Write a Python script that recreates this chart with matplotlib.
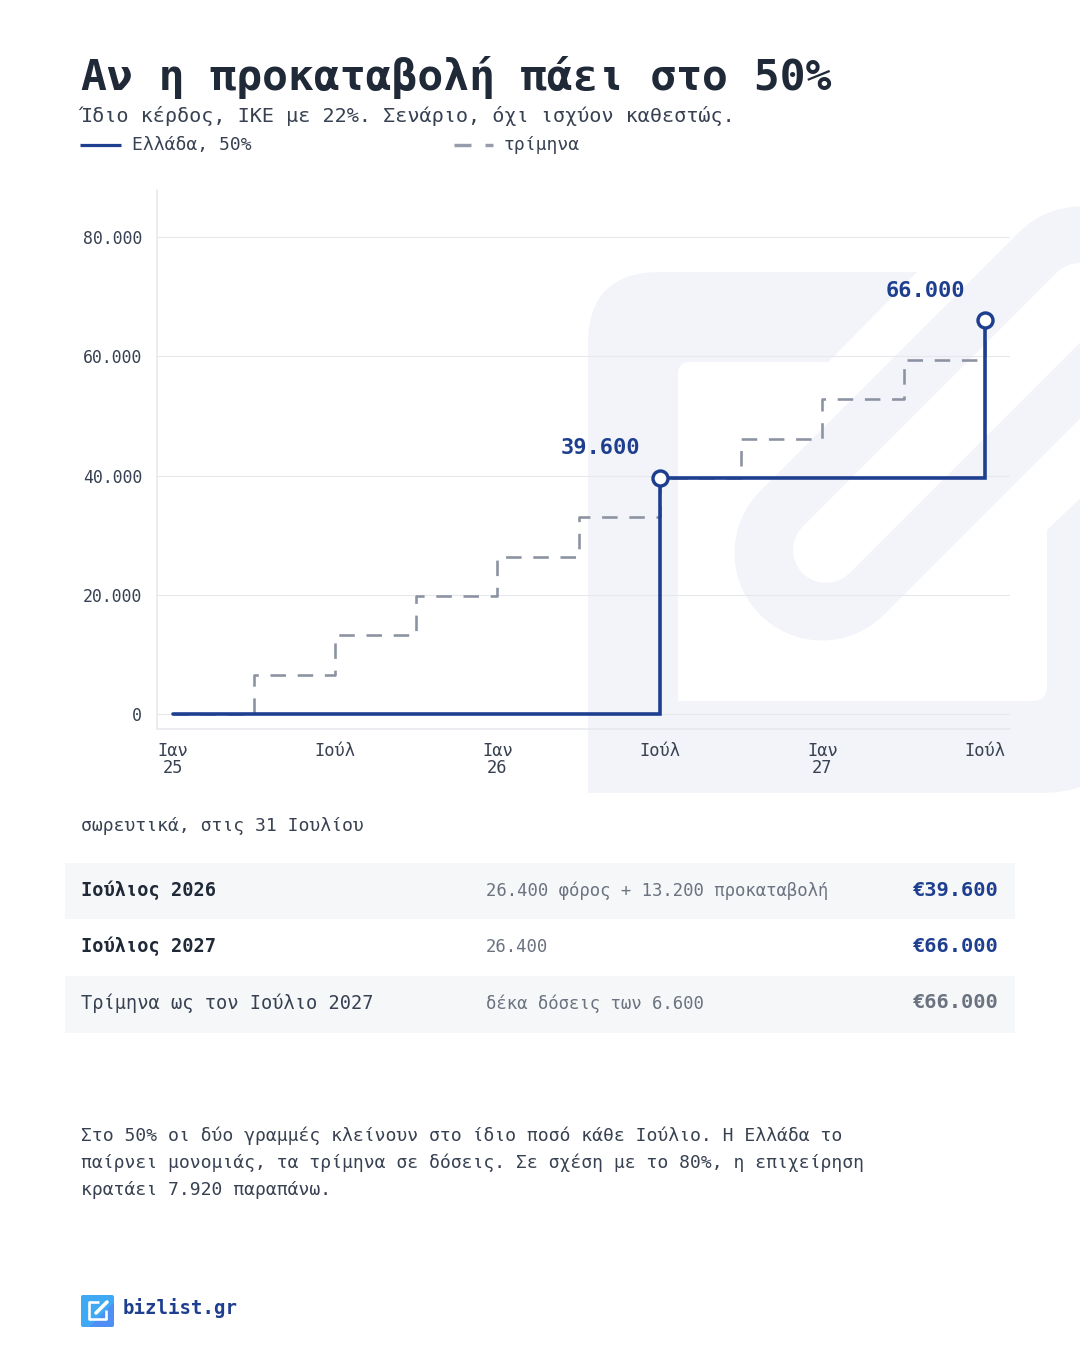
import numpy as np
import matplotlib
matplotlib.use("Agg")
import matplotlib.pyplot as plt
from matplotlib.patches import Polygon, FancyBboxPatch, Rectangle
from matplotlib.path import Path
from matplotlib.patches import PathPatch

# ---------- data ----------
greece_months = [0, 18, 30]
greece_values = [0, 39600, 66000]
quarter_months = [0, 3, 6, 9, 12, 15, 18, 21, 24, 27, 30]
quarter_values = [0, 6600, 13200, 19800, 26400, 33000, 39600, 46200, 52800, 59400, 66000]
marker_months = [18, 30]
marker_values = [39600, 66000]
marker_labels = ["39.600", "66.000"]
y_ticks = [0, 20000, 40000, 60000, 80000]
y_tick_labels = ["0", "20.000", "40.000", "60.000", "80.000"]
x_ticks = [0, 6, 12, 18, 24, 30]
x_tick_labels = ["Ιαν\n25", "Ιούλ", "Ιαν\n26", "Ιούλ", "Ιαν\n27", "Ιούλ"]
row_labels = ["Ιούλιος 2026", "Ιούλιος 2027", "Τρίμηνα ως τον Ιούλιο 2027"]
row_notes = ["26.400 φόρος + 13.200 προκαταβολή", "26.400", "δέκα δόσεις των 6.600"]
row_amounts = ["€39.600", "€66.000", "€66.000"]

# ---------- style ----------
FONT = "DejaVu Sans Mono"
plt.rcParams["font.family"] = [FONT]
plt.rcParams["lines.scale_dashes"] = False
W, H = 1080, 1350
BLUE = "#1e3f8f"
GREY = "#8b92a2"
GRID = "#e6e8ec"
WM = "#f2f4f9"
DARK = "#1f2937"
MID = "#374151"
SOFT = "#6b7280"
ROW = "#f6f7f9"
pt = lambda px: px * 0.72

fig = plt.figure(figsize=(W / 100, H / 100), dpi=100, facecolor="white")
bg = fig.add_axes([0, 0, 1, 1], zorder=0)
bg.set_xlim(0, W)
bg.set_ylim(H, 0)
bg.axis("off")


def rounded(points):
    """Path through (x, y, radius) corners."""
    verts, codes = [], []
    n = len(points)
    for i, (x, y, r) in enumerate(points):
        p = np.array([x, y], float)
        a = np.array(points[i - 1][:2], float)
        b = np.array(points[(i + 1) % n][:2], float)
        if r == 0:
            verts.append(p)
            codes.append(Path.MOVETO if i == 0 else Path.LINETO)
        else:
            p1 = p + (a - p) / np.linalg.norm(a - p) * r
            p2 = p + (b - p) / np.linalg.norm(b - p) * r
            verts += [p1, p, p2]
            codes += [Path.MOVETO if i == 0 else Path.LINETO, Path.CURVE3, Path.CURVE3]
    verts.append(verts[0])
    codes.append(Path.CLOSEPOLY)
    return Path(verts, codes)


# ---------- watermark ----------
bg.add_patch(PathPatch(rounded([(588, 793, 0), (588, 272, 72), (1130, 272, 0), (1130, 793, 90)]), fc=WM, ec="none"))
bg.add_patch(PathPatch(rounded([(678, 701, 0), (678, 362, 12), (1047, 362, 0), (1047, 701, 15)]), fc="white", ec="none"))
bg.add_patch(Polygon([(925, 264), (828, 362), (1047, 530), (1090, 489), (1090, 264)], fc="white", ec="none"))
bg.plot([822, 1085], [553, 290], color=WM, lw=pt(175), solid_capstyle="round", zorder=2)
bg.plot([826, 1080], [550, 296], color="white", lw=pt(66), solid_capstyle="round", zorder=2.1)

# ---------- table rows ----------
for top, bottom in [(863, 919), (976, 1033)]:
    bg.add_patch(Rectangle((65, top), 950, bottom - top, fc=ROW, ec="none", zorder=3))

# ---------- chart ----------
L, R, T, B = 157, 1010, 190, 729
ax = fig.add_axes([L / W, 1 - B / H, (R - L) / W, (B - T) / H], zorder=1)
ax.patch.set_alpha(0)
px_month = 27.08
x0_px, y0_px, px_val = 172.5, 714.0, 477.0 / 80000
ax.set_xlim((L - x0_px) / px_month, (R - x0_px) / px_month)
ax.set_ylim((y0_px - B) / px_val, (y0_px - T) / px_val)
for s in ["top", "right"]:
    ax.spines[s].set_visible(False)
for s in ["left", "bottom"]:
    ax.spines[s].set_color(GRID)
    ax.spines[s].set_linewidth(pt(1.5))
ax.set_axisbelow(True)
ax.grid(axis="y", color=GRID, lw=pt(1.1))
ax.set_yticks(y_ticks)
ax.set_yticklabels(y_tick_labels, fontsize=pt(16.5), color=MID, va="center_baseline")
ax.set_xticks(x_ticks)
ax.set_xticklabels(x_tick_labels, fontsize=pt(17), color=MID, linespacing=0.92)
ax.tick_params(axis="both", length=0)
ax.tick_params(axis="y", pad=pt(15))
ax.tick_params(axis="x", pad=pt(13))

ax.step(quarter_months, quarter_values, where="post", color=GREY, lw=pt(2.6),
        linestyle=(0, (pt(15.5), pt(11.7))), zorder=3, clip_on=False)
ax.step(greece_months, greece_values, where="post", color=BLUE, lw=pt(3.6),
        solid_joinstyle="miter", solid_capstyle="round", zorder=4)
ax.plot(marker_months, marker_values, ls="none", marker="o", ms=pt(15), mfc="white",
        mec=BLUE, mew=pt(3.4), zorder=5, clip_on=False)
for mx, my, lab in zip(marker_months, marker_values, marker_labels):
    ax.annotate(lab, (mx, my), xytext=(pt(-20), pt(23.5)), textcoords="offset points",
                ha="right", va="baseline", fontsize=pt(22), color=BLUE, fontweight="bold", zorder=6)

# ---------- text ----------
def text(x, y, s, size, color=DARK, weight="normal", ha="left"):
    bg.text(x, y, s, fontsize=pt(size), color=color, fontweight=weight, ha=ha, va="baseline", zorder=5)


text(81, 90, "Αν η προκαταβολή πάει στο 50%", 43, DARK, "bold")
text(80, 122, "Ίδιο κέρδος, ΙΚΕ με 22%. Σενάριο, όχι ισχύον καθεστώς.", 20.2, MID)
bg.plot([80, 121], [144.5, 144.5], color=BLUE, lw=pt(3.2), solid_capstyle="butt", zorder=5)
text(132, 150, "Ελλάδα, 50%", 18, MID)
bg.plot([454, 493], [144.5, 144.5], color="#969cab", lw=pt(3.4), solid_capstyle="butt",
        linestyle=(0, (pt(17), pt(14))), zorder=5)
text(504, 150, "τρίμηνα", 18, MID)
text(81, 831, "σωρευτικά, στις 31 Ιουλίου", 18, MID)

row_base = [896, 952, 1009]
row_weight = ["bold", "bold", "normal"]
row_color = [DARK, DARK, MID]
amount_color = [BLUE, BLUE, SOFT]
for i in range(3):
    text(81, row_base[i], row_labels[i], 18.7, row_color[i], row_weight[i])
    text(486, row_base[i], row_notes[i], 17.2, SOFT)
    text(999, row_base[i] - 0.5, row_amounts[i], 20.4, amount_color[i], "bold", ha="right")

para = ["Στο 50% οι δύο γραμμές κλείνουν στο ίδιο ποσό κάθε Ιούλιο. Η Ελλάδα το",
        "παίρνει μονομιάς, τα τρίμηνα σε δόσεις. Σε σχέση με το 80%, η επιχείρηση",
        "κρατάει 7.920 παραπάνω."]
for yb, line in zip([1141, 1168, 1195], para):
    text(81, yb, line, 18, MID)

# ---------- footer logo ----------
gx, gy = np.meshgrid(np.linspace(0, 1, 40), np.linspace(0, 1, 40))
grad = np.where(gx + gy > 1.25, 0.0, 1.0)
cm = matplotlib.colors.LinearSegmentedColormap.from_list("lg", ["#4f8ff5", "#3fa9f5"])
im = bg.imshow(grad, extent=(81, 114, 1327, 1295), cmap=cm, aspect="auto", zorder=5)
im.set_clip_path(FancyBboxPatch((81, 1295), 33, 32, boxstyle="round,pad=0,rounding_size=2", transform=bg.transData))
bg.set_xlim(0, W)
bg.set_ylim(H, 0)
bg.add_patch(PathPatch(Path([(99, 1302), (89, 1302), (89, 1319), (106, 1319), (106, 1310)],
                            [Path.MOVETO, Path.LINETO, Path.LINETO, Path.LINETO, Path.LINETO]),
                       fc="none", ec="white", lw=pt(2.6), joinstyle="round", zorder=6))
bg.plot([96, 107], [1313, 1302], color="white", lw=pt(3.6), solid_capstyle="round", zorder=6)
text(123, 1314, "bizlist.gr", 19, BLUE, "bold")

fig.savefig("out.png", dpi=100)
